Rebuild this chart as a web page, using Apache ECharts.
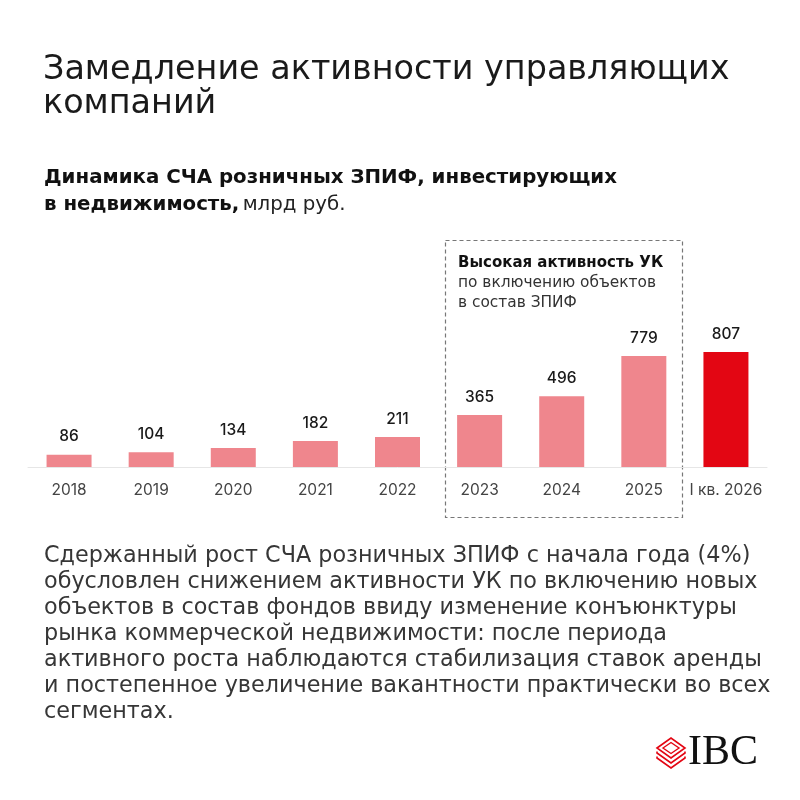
<!DOCTYPE html>
<html>
<head>
<meta charset="utf-8">
<script src="https://cdn.jsdelivr.net/npm/echarts@6/dist/echarts.min.js"></script>
<style>
  html, body { margin: 0; padding: 0; background: #fff; }
  #chart { width: 800px; height: 800px; }
</style>
</head>
<body>
<div id="chart"></div>
<script>
// data
const categories = ['2018', '2019', '2020', '2021', '2022', '2023', '2024', '2025', 'I кв. 2026'];
const values = [86, 104, 134, 182, 211, 365, 496, 779, 807];
const highlightIndex = 8;

const titleLines = ['Замедление активности управляющих', 'компаний'];
const noteLines = ['Высокая активность УК', 'по включению объектов', 'в состав ЗПИФ'];
const bodyLines = [
    'Сдержанный рост СЧА розничных ЗПИФ с начала года (4%)',
    'обусловлен снижением активности УК по включению новых',
    'объектов в состав фондов ввиду изменение конъюнктуры',
    'рынка коммерческой недвижимости: после периода',
    'активного роста наблюдаются стабилизация ставок аренды',
    'и постепенное увеличение вакантности практически во всех',
    'сегментах.'
];

const FONT = '"DejaVu Sans", "Noto Sans", sans-serif';
const FONT_N = 'Inter, "Noto Sans", sans-serif';
const PINK = '#EF868D';
const RED = '#E30613';

const chart = echarts.init(document.getElementById('chart'));

let graphics = [];

// title
titleLines.forEach((t, i) => {
    graphics.push({
        type: 'text', left: 43, top: 54 + i * 34,
        style: { text: t, font: '400 33.4px ' + FONT, fill: '#1a1a1a' }
    });
});

// subtitle
graphics.push({
    type: 'text', left: 44, top: 168,
    style: {
        text: '{b|Динамика СЧА розничных ЗПИФ, инвестирующих}\n{b|в недвижимость,} {r|млрд руб.}',
        rich: {
            b: { font: 'bold 19.8px ' + FONT, fill: '#111', lineHeight: 27 },
            r: { font: '400 19.8px ' + FONT, fill: '#222', lineHeight: 27 }
        }
    }
});

// dashed frame around 2023-2025
graphics.push({
    type: 'rect',
    shape: { x: 445.5, y: 240.5, width: 237, height: 277 },
    style: { fill: 'none', stroke: '#777', lineWidth: 1.2, lineDash: [4, 3] }
});
graphics.push({
    type: 'text', left: 458, top: 256,
    style: {
        text: '{b|' + noteLines[0] + '}\n{r|' + noteLines[1] + '}\n{r|' + noteLines[2] + '}',
        rich: {
            b: { font: 'bold 15px ' + FONT, fill: '#111', lineHeight: 19.5 },
            r: { font: '400 15.4px ' + FONT, fill: '#333', lineHeight: 19.5 }
        }
    }
});

// body paragraph
graphics.push({
    type: 'text', left: 44, top: 543,
    style: {
        text: bodyLines.join('\n'),
        font: '400 22.3px ' + FONT, fill: '#363636', lineHeight: 26
    }
});

// IBC logo
const cx = 671, cy = 748;
graphics.push({
    type: 'polygon',
    shape: { points: [[cx - 14, cy], [cx, cy - 10], [cx + 14, cy], [cx, cy + 10]] },
    style: { fill: 'none', stroke: RED, lineWidth: 1.6 }
});
graphics.push({
    type: 'polygon',
    shape: { points: [[cx - 8, cy], [cx, cy - 5.5], [cx + 8, cy], [cx, cy + 5.5]] },
    style: { fill: 'none', stroke: RED, lineWidth: 1.4 }
});
[5, 10].forEach(d => {
    graphics.push({
        type: 'polyline',
        shape: { points: [[cx - 14, cy + d - 1.5], [cx - 14, cy + d], [cx, cy + 10 + d], [cx + 14, cy + d], [cx + 14, cy + d - 1.5]] },
        style: { fill: 'none', stroke: RED, lineWidth: 1.6 }
    });
});
graphics.push({
    type: 'text', left: 688, top: 732,
    style: { text: 'IBC', font: '400 42px "Liberation Serif", "DejaVu Serif", serif', fill: '#111' }
});

const option = {
    backgroundColor: '#fff',
    animation: false,
    grid: { left: 28, right: 33, top: 239, bottom: 333 },
    xAxis: {
        type: 'category',
        data: categories,
        axisLine: { lineStyle: { color: '#e6e6e6', width: 1 } },
        axisTick: { show: false },
        axisLabel: { interval: 0, color: '#444', fontFamily: FONT_N, fontSize: 15.5, margin: 15 }
    },
    yAxis: {
        type: 'value', min: 0, max: 1600,
        show: false,
        splitLine: { show: false }
    },
    series: [{
        type: 'bar',
        barWidth: 45,
        data: values.map((v, i) => ({
            value: v,
            itemStyle: { color: i === highlightIndex ? RED : PINK }
        })),
        label: {
            show: true, position: 'top', distance: 10,
            color: '#1a1a1a', fontFamily: FONT_N, fontSize: 15.5, fontWeight: 500
        }
    }],
    graphic: graphics
};

chart.setOption(option);
</script>
</body>
</html>
